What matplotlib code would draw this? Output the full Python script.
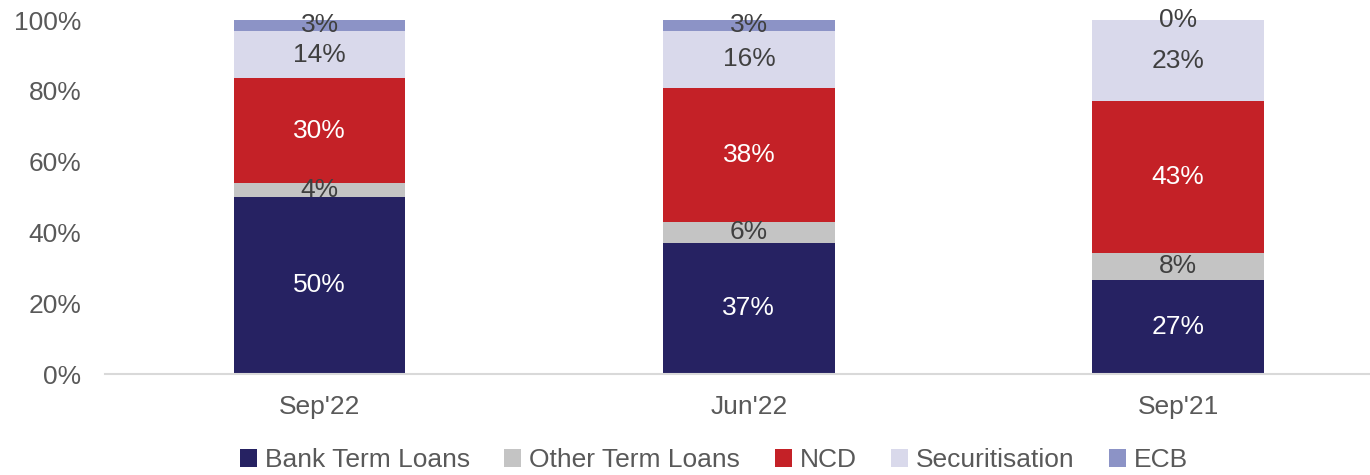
import matplotlib
matplotlib.use("Agg")
import matplotlib.pyplot as plt
import numpy as np

categories = ["Sep'22", "Jun'22", "Sep'21"]
series_names = ["Bank Term Loans", "Other Term Loans", "NCD", "Securitisation", "ECB"]
bank_term_loans = [50.1, 37.1, 26.6]
other_term_loans = [3.8, 5.8, 7.7]
ncd = [29.6, 37.8, 42.7]
securitisation = [13.5, 16.3, 23.0]
ecb = [3.0, 3.0, 0.0]
y_ticks = [0, 20, 40, 60, 80, 100]

colors = ["#262262", "#C4C4C4", "#C42127", "#D9D9EB", "#8C93C6"]
label_colors = ["white", "#404040", "white", "#404040", "#404040"]

plt.rcParams['font.family'] = ['Liberation Sans', 'DejaVu Sans']

fig = plt.figure(figsize=(13.7, 4.75), dpi=100)
ax = fig.add_axes([105/1370, 1-374/475, 1-105/1370, (374-20)/475])

data = [bank_term_loans, other_term_loans, ncd, securitisation, ecb]
x = np.arange(len(categories))
bottom = np.zeros(len(categories))
handles = []
for name, vals, c, lc in zip(series_names, data, colors, label_colors):
    vals = np.array(vals)
    b = ax.bar(x, vals, 0.4, bottom=bottom, color=c, label=name, edgecolor='none')
    handles.append(b)
    for xi, v, bt in zip(x, vals, bottom):
        ax.text(xi, bt + v/2, f"{v:.0f}%", ha='center', va='center',
                fontsize=19, color=lc)
    bottom = bottom + vals

ax.set_xlim(-0.5, 2.447)
ax.set_ylim(0, 100)
ax.set_yticks(y_ticks)
ax.set_yticklabels([f"{t}%" for t in y_ticks])
ax.set_xticks(x)
ax.set_xticklabels(categories)
for s in ['top', 'right', 'left']:
    ax.spines[s].set_visible(False)
ax.spines['bottom'].set_color('#D9D9D9')
ax.spines['bottom'].set_linewidth(1.5)
ax.tick_params(axis='y', length=0, pad=17, labelsize=19, labelcolor='#595959')
ax.tick_params(axis='x', length=0, pad=15, labelsize=19, labelcolor='#595959')

leg = fig.legend(handles=handles, labels=series_names, loc='center',
                 bbox_to_anchor=(714/1370, 1-460/475), ncol=5, frameon=False,
                 fontsize=19, handlelength=0.65, handleheight=0.65,
                 handletextpad=0.3, columnspacing=1.3)
for t in leg.get_texts():
    t.set_color('#595959')

fig.savefig("out.png", dpi=100)
